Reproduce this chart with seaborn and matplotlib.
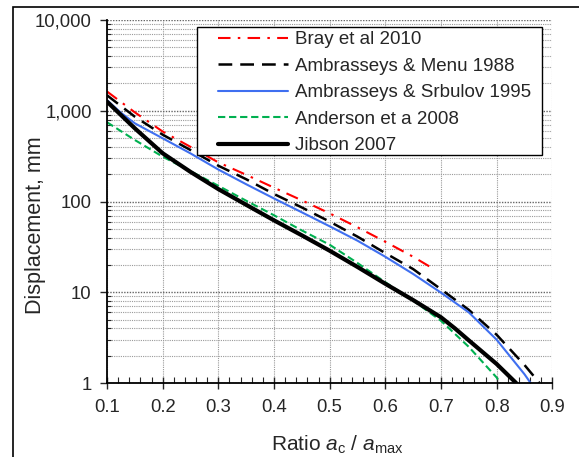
import numpy as np
import pandas as pd
import matplotlib
matplotlib.use("Agg")
import matplotlib.pyplot as plt
import matplotlib.ticker as mticker
from matplotlib.patches import Rectangle
import seaborn as sns

# -----------------------------
# DATA
# -----------------------------
bray_x = [0.10, 0.15, 0.20, 0.25, 0.30, 0.35, 0.40, 0.45, 0.50, 0.55, 0.60, 0.65, 0.69]
bray = [1630, 960, 590, 400, 270, 197, 142, 103, 74, 52, 36, 24.6, 17.6]

menu_x = [0.10, 0.15, 0.20, 0.25, 0.30, 0.35, 0.40, 0.45, 0.50, 0.55, 0.60, 0.65,
          0.70, 0.75, 0.80, 0.85, 0.877]
menu = [1480, 860, 545, 369, 248, 176, 121, 86, 60, 41, 27, 18.0, 10.8, 6.4, 3.4, 1.58, 1.0]

srbulov_x = [0.10, 0.125, 0.15, 0.20, 0.25, 0.30, 0.35, 0.40, 0.45, 0.50, 0.55, 0.60, 0.65,
             0.70, 0.75, 0.80, 0.85, 0.861]
srbulov = [1310, 950, 727, 497, 339, 225, 155, 108, 76, 53.3, 37, 24.6, 15.9, 9.9, 6.0, 3.0, 1.25, 1.0]

anderson_x = [0.10, 0.15, 0.20, 0.25, 0.30, 0.35, 0.40, 0.45, 0.50, 0.55, 0.60, 0.65, 0.70,
              0.75, 0.80, 0.806]
anderson = [747, 476, 312, 216, 149, 102, 70.5, 48, 33.4, 21, 12.9, 8.1, 4.85, 2.5, 1.15, 1.0]

jibson_x = [0.10, 0.15, 0.20, 0.25, 0.30, 0.35, 0.40, 0.45, 0.50, 0.55, 0.60, 0.65, 0.70,
            0.725, 0.75, 0.80, 0.835]
jibson = [1260, 640, 340, 212, 137, 92, 62, 42.4, 28.7, 19, 12.4, 8.2, 5.3, 4.0, 2.95, 1.62, 1.0]

labels = ["Bray et al 2010", "Ambrasseys & Menu 1988", "Ambrasseys & Srbulov 1995",
          "Anderson et a 2008", "Jibson 2007"]

# -----------------------------
# PLOT
# -----------------------------
sns.set_style("white")
plt.rcParams["font.family"] = ["Liberation Sans", "DejaVu Sans"]
plt.rcParams["mathtext.fontset"] = "custom"
plt.rcParams["mathtext.it"] = "Liberation Sans:italic"
plt.rcParams["mathtext.rm"] = "Liberation Sans"

W, H = 579, 457
fig = plt.figure(figsize=(W / 100, H / 100), dpi=100)
ax = fig.add_axes([107 / W, 1 - 383 / H, (552.3 - 107) / W, (383 - 20) / H])

series = [
    (bray_x, bray, "#FF0000", 1.5, (6, 3.5, 1.2, 3.5)),
    (menu_x, menu, "black", 1.8, (5.5, 3.2)),
    (srbulov_x, srbulov, "#3F6FF0", 1.5, None),
    (anderson_x, anderson, "#00B050", 1.5, (3.5, 1.8)),
    (jibson_x, jibson, "black", 3.0, None),
]

for (xs, ys, col, lw, dash), lab in zip(series, labels):
    df = pd.DataFrame({"ratio": xs, "disp": ys})
    sns.lineplot(data=df, x="ratio", y="disp", ax=ax, color=col, linewidth=lw, label=lab)
    if dash is not None:
        ax.lines[-1].set_dashes(dash)

ax.set_yscale("log")
ax.set_xlim(0.1, 0.9)
ax.set_ylim(1, 10000)
ax.xaxis.set_major_locator(mticker.MultipleLocator(0.1))
ax.xaxis.set_minor_locator(mticker.MultipleLocator(0.02))
ax.xaxis.set_major_formatter(mticker.FormatStrFormatter("%.1f"))
ax.yaxis.set_major_locator(mticker.LogLocator(base=10))
ax.yaxis.set_minor_locator(mticker.LogLocator(base=10, subs=np.arange(2, 10)))
ax.yaxis.set_major_formatter(mticker.FuncFormatter(lambda v, p: f"{v:,.0f}"))
ax.yaxis.set_minor_formatter(mticker.NullFormatter())

ax.grid(True, which="major", axis="x", color="#9a9a9a", linestyle=(0, (1, 1)), linewidth=0.8)
ax.grid(True, which="major", axis="y", color="#666666", linestyle=(0, (1, 1)), linewidth=1.0)
ax.grid(True, which="minor", axis="y", color="#9a9a9a", linestyle=(0, (1, 1)), linewidth=0.8)

for side in ["top", "right"]:
    ax.spines[side].set_visible(False)
for side in ["left", "bottom"]:
    ax.spines[side].set_color("black")
    ax.spines[side].set_linewidth(1.3)

ax.tick_params(axis="y", which="major", direction="out", length=5, width=1, labelsize=13.3, pad=6)
ax.tick_params(axis="y", which="minor", direction="in", length=3, width=0.8)
ax.tick_params(axis="x", which="major", direction="inout", length=9, width=1, labelsize=13.3, pad=7)
ax.tick_params(axis="x", which="minor", direction="in", length=4, width=0.8)
ax.tick_params(left=True, bottom=True, which="both")

ax.set_ylabel("Displacement, mm", fontsize=15.5)
ax.yaxis.set_label_coords((46 - 107) / 445.3, (383 - 225) / 363)
ax.set_xlabel(r"Ratio $a_{\mathrm{c}}$ / $a_{\mathrm{max}}$", fontsize=15)
ax.xaxis.set_label_coords((337 - 107) / 445.3, -(434 - 383) / 363)

leg = ax.legend(loc="upper left", bbox_to_anchor=(218 / W, 1 - 31 / H), bbox_transform=fig.transFigure,
                fontsize=13.5, frameon=False, handlelength=3.73, labelspacing=0.5,
                borderpad=0, handletextpad=0.37, borderaxespad=0)
leg.set_zorder(6)
# legend box drawn by hand (wide side padding, tight top/bottom)
ax.add_patch(Rectangle((197 / W, 1 - 155 / H), 345 / W, 128 / H, transform=fig.transFigure,
                       facecolor="white", edgecolor="black", linewidth=1.0, zorder=5, clip_on=False))

# chart-area border
fig.patches.append(Rectangle((13 / W, -0.1), 1.2, 1 - 7 / H + 0.1, transform=fig.transFigure,
                             fill=False, edgecolor="black", linewidth=1.2, clip_on=False))

fig.savefig("out.png", dpi=100)
